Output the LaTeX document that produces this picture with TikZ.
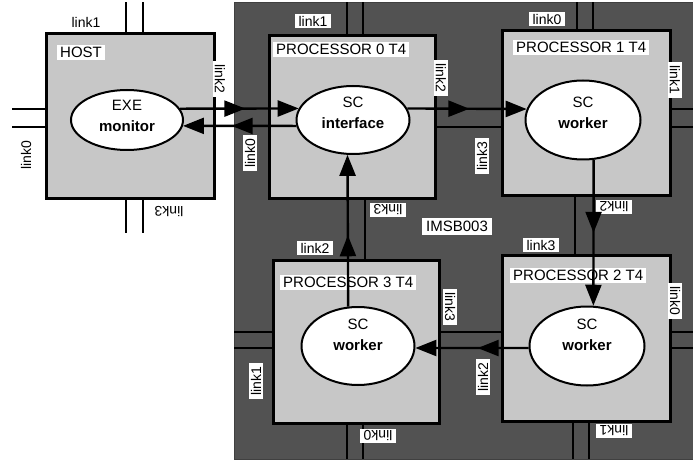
\documentclass[tikz,border=0pt]{standalone}
\usepackage{fontspec}
\setmainfont{Liberation Sans}
\usetikzlibrary{arrows.meta,shapes.geometric}
\usetikzlibrary{decorations.markings}
\tikzset{>=latex}
\colorlet{BoardCol}{black!68}
\colorlet{ChipCol}{black!22}
\tikzstyle{board}=[fill=BoardCol,draw=black!75,line width=0.8pt]
\tikzstyle{chip}=[draw=black,line width=2.6pt,fill=ChipCol,inner sep=0,
anchor=south west]
\tikzstyle{task}=[ellipse,draw=black,line width=2pt,fill=white,inner sep=0]
\tikzstyle{tasktext}=[align=center,yshift=7,inner sep=0,
font=\fontsize{15}{21}\selectfont]
\tikzstyle{wire}=[line width=1.8pt]
\tikzstyle{chipname}=[fill=white,anchor=north west,inner xsep=3pt,
inner ysep=2pt,font=\fontsize{15}{18}\selectfont]
\tikzstyle{linkname}=[fill=white,inner xsep=3.5pt,inner ysep=1.5pt,
font=\fontsize{14}{16}\selectfont]
\tikzset{
  LinkFlow/.style={line width=2.4pt,-{Triangle[length=21pt,width=16pt]},
                   decoration={markings,
                   mark=at position #1 with {\arrow{Triangle[length=21pt,width=16pt]}}},
                   postaction={decorate}},
  LinkFlow/.default=0.5}

\begin{document}
\begin{tikzpicture}[x=1pt,y=1pt]
  \useasboundingbox (0,0) rectangle (693,461);

  % BOARD
  \draw[board] (234,2) rectangle (693,459);
  \node[linkname,inner xsep=4pt,inner ysep=3pt,font=\fontsize{15}{18}\selectfont]
    (board) at (457,234.5) {IMSB003};

  % LINK WIRES
  \foreach \xa/\ya/\xb/\yb in {126/426/126/459, 143/426/143/459,
      126/261/126/228, 143/261/143/228, 12/352/45/352, 12/334/45/334,
      347/424/347/459, 363/424/363/459, 365/261/365/199,
      577/429/577/459, 593/429/593/459, 669/352/693/352, 669/334/693/334,
      434/334/501/334, 575/264/575/204,
      669/129/693/129, 669/113/693/113, 573/38/573/2, 589/38/589/2,
      438/129/501/129, 234/129/272/129, 234/113/272/113,
      347/36/347/2, 363/36/363/2}{
    \draw[wire] (\xa,\ya) -- (\xb,\yb);
  }

  % PROCESSORS
  \node[chip,minimum width=168,minimum height=165] (host)  at (45,261) {};
  \node[chip,minimum width=166,minimum height=163] (proc0) at (268,261) {};
  \node[chip,minimum width=168,minimum height=165] (proc1) at (501,264) {};
  \node[chip,minimum width=168,minimum height=166] (proc2) at (501,38) {};
  \node[chip,minimum width=166,minimum height=163] (proc3) at (272,36) {};

  \node[chipname] (hostname)  at (57,416)  {HOST};
  \node[chipname] (proc0name) at (273,419) {PROCESSOR 0 T4};
  \node[chipname] (proc1name) at (513,421) {PROCESSOR 1 T4};
  \node[chipname] (proc2name) at (510,193) {PROCESSOR 2 T4};
  \node[chipname] (proc3name) at (280,186) {PROCESSOR 3 T4};

  % LINK NAMES
  \node[linkname]           (hostl1) at (86,439)  {link1};
  \node[linkname,rotate=-90] (hostl2) at (220,382) {link2};
  \node[linkname,rotate=180] (hostl3) at (169,249) {link3};
  \node[linkname,rotate=90]  (hostl0) at (26,306)  {link0};

  \node[linkname]           (p0l1) at (313,440) {link1};
  \node[linkname,rotate=-90] (p0l2) at (441,383) {link2};
  \node[linkname,rotate=180] (p0l3) at (388,251) {link3};
  \node[linkname,rotate=90]  (p0l0) at (250,308) {link0};

  \node[linkname]           (p1l0) at (547,442) {link0};
  \node[linkname,rotate=-90] (p1l1) at (675,381) {link1};
  \node[linkname,rotate=180] (p1l2) at (614,254) {link2};
  \node[linkname,rotate=90]  (p1l3) at (482,305) {link3};

  \node[linkname]           (p2l3) at (541,216) {link3};
  \node[linkname,rotate=-90] (p2l0) at (675,160) {link0};
  \node[linkname,rotate=180] (p2l1) at (614,30)  {link1};
  \node[linkname,rotate=90]  (p2l2) at (483,84)  {link2};

  \node[linkname]           (p3l2) at (315,213) {link2};
  \node[linkname,rotate=-90] (p3l3) at (450,154) {link3};
  \node[linkname,rotate=180] (p3l0) at (378,25)  {link0};
  \node[linkname,rotate=90]  (p3l1) at (256,80)  {link1};

  % TASKS
  \node[task,minimum width=112,minimum height=60,
    label={[tasktext,yshift=-3]center:{EXE\\\textbf{monitor}}}] (exe) at (127,341) {};
  \node[task,minimum width=113,minimum height=68,
    label={[tasktext]center:{SC\\\textbf{interface}}}] (sc0) at (353,341) {};
  \node[task,minimum width=115,minimum height=79,
    label={[tasktext]center:{SC\\\textbf{worker}}}] (sc1) at (583,341) {};
  \node[task,minimum width=115,minimum height=79,
    label={[tasktext,yshift=4]center:{SC\\\textbf{worker}}}] (sc2) at (587,115) {};
  \node[task,minimum width=113,minimum height=78,
    label={[tasktext,yshift=4]center:{SC\\\textbf{worker}}}] (sc3) at (358,115) {};

  % MESSAGE FLOW
  \draw[LinkFlow=0.55] (exe.12) -- (sc0.168);
  \draw[LinkFlow=0.57] (sc0.186) -- (exe.-6);
  \draw[LinkFlow=0.52] (sc0.12) -- (sc1.169);
  \draw[LinkFlow] (sc1.-75.6) -- (sc2.81.3);
  \draw[LinkFlow=0.45] (sc2.182) -- (sc3.-2);
  \draw[LinkFlow=0.47] (sc3.104.6) -- (sc0.261.6);

\end{tikzpicture}
\end{document}
